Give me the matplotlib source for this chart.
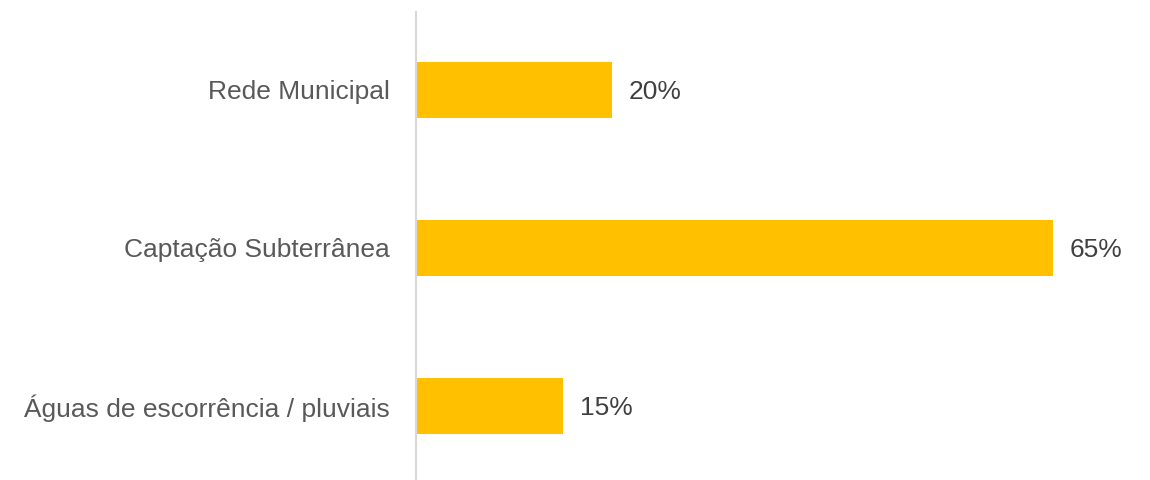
import matplotlib
matplotlib.use("Agg")
import matplotlib.pyplot as plt

categories = ["Rede Municipal", "Captação Subterrânea", "Águas de escorrência / pluviais"]
values = [20, 65, 15]
value_labels = ["20%", "65%", "15%"]

plt.rcParams["font.family"] = ["Liberation Sans", "DejaVu Sans"]

W, H = 1150, 480
fig = plt.figure(figsize=(W / 100, H / 100), dpi=100)
ax = fig.add_axes([416 / W, 0, (W - 416) / W, 468 / H])

y = list(range(len(categories)))
ax.barh(y, values, height=56 / 158, color="#FFC000")

for yi, v, lab in zip(y, values, value_labels):
    ax.annotate(lab, (v, yi), xytext=(17, -2), textcoords="offset pixels",
                va="center", ha="left", fontsize=19, color="#404040")

ax.set_xlim(0, (W - 416) / 9.8)
ax.set_ylim(2 + 74 / 158, -78 / 158)
ax.set_yticks(y)
ax.set_yticklabels(categories, fontsize=19, color="#595959")
ax.tick_params(axis="y", length=0, pad=19)
ax.set_xticks([])

for s in ("top", "right", "bottom"):
    ax.spines[s].set_visible(False)
ax.spines["left"].set_color("#D9D9D9")
ax.spines["left"].set_linewidth(1.5)

fig.savefig("out.png", dpi=100)
